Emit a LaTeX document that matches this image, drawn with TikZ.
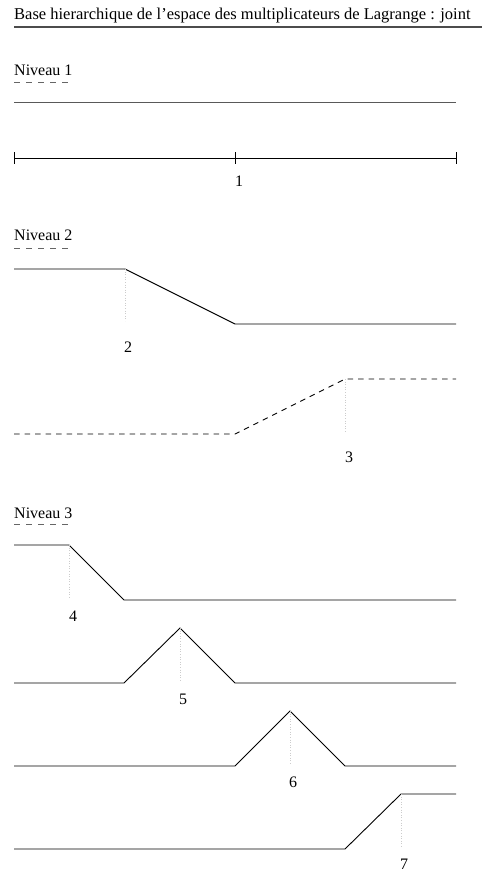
\documentclass[tikz,border=0pt]{standalone}
\usepackage{fontspec}
\setmainfont{Liberation Serif}
\begin{document}
\begin{tikzpicture}[x=1pt,y=-1pt,
  txt/.style={font=\fontsize{16}{19}\selectfont,inner sep=0pt},
  lvl/.style={txt,anchor=base west},
  num/.style={txt,anchor=base},
  curve/.style={line width=0.9pt,black},
  guide/.style={gray!40,dotted,line width=0.6pt},
  uline/.style={dash pattern=on 6pt off 6pt,line width=0.8pt,gray!80!black}]
\useasboundingbox (0,0) rectangle (482,874);
% title
\node[lvl,font=\fontsize{16.5}{19}\selectfont] (title) at (14,20) {Base hierarchique de l’espace des multiplicateurs de Lagrange : joint};
\coordinate (tl) at (14,27); \coordinate (tr) at (482,27);
\draw[line width=1.4pt,gray!60!black] (tl) -- (tr);
% Niveau 1
\node[lvl] (n1) at (14,76) {Niveau 1};
\coordinate (n1a) at (14,82); \coordinate (n1b) at (70,82);
\draw[uline] (n1a) -- (n1b);
\coordinate (l1a) at (14,102.5); \coordinate (l1b) at (456,102.5);
\draw[curve,gray!70!black] (l1a) -- (l1b);
\coordinate (ax0) at (14,158); \coordinate (ax1) at (235,158); \coordinate (ax2) at (456,158);
\draw[curve] (ax0) -- (ax2);
\foreach \c in {ax0,ax1,ax2} \draw[curve] ([yshift=-6pt]\c) -- ([yshift=6pt]\c);
\node[num] (k1) at (239,186.5) {1};
% Niveau 2
\node[lvl] (n2) at (14,241) {Niveau 2};
\coordinate (n2a) at (14,248); \coordinate (n2b) at (70,248);
\draw[uline] (n2a) -- (n2b);
\coordinate (a0) at (14,269); \coordinate (a1) at (125,269); \coordinate (a2) at (235,324); \coordinate (a3) at (456,324);
\draw[curve] (a0) -- (a1) -- (a2) -- (a3);
\coordinate (g2) at (125,321);
\draw[guide] (a1) -- (g2);
\node[num] (k2) at (128,352.5) {2};
\coordinate (b0) at (14,434); \coordinate (b1) at (235,434); \coordinate (b2) at (345,379); \coordinate (b3) at (456,379);
\draw[curve,dash pattern=on 5.5pt off 5pt] (b0) -- (b1) -- (b2) -- (b3);
\coordinate (g3) at (345,432);
\draw[guide] (b2) -- (g3);
\node[num] (k3) at (349,462.5) {3};
% Niveau 3
\node[lvl] (n3) at (14,518) {Niveau 3};
\coordinate (n3a) at (14,524); \coordinate (n3b) at (70,524);
\draw[uline] (n3a) -- (n3b);
\coordinate (c0) at (14,545); \coordinate (c1) at (69,545); \coordinate (c2) at (124,600); \coordinate (c3) at (456,600);
\draw[curve] (c0) -- (c1) -- (c2) -- (c3);
\coordinate (g4) at (69,598);
\draw[guide] (c1) -- (g4);
\node[num] (k4) at (73,621.5) {4};
\coordinate (d0) at (14,683); \coordinate (d1) at (124,683); \coordinate (d2) at (180,628); \coordinate (d3) at (235,683); \coordinate (d4) at (456,683);
\draw[curve] (d0) -- (d1) -- (d2) -- (d3) -- (d4);
\coordinate (g5) at (180,681);
\draw[guide] (d2) -- (g5);
\node[num] (k5) at (183,704.5) {5};
\coordinate (e0) at (14,766); \coordinate (e1) at (235,766); \coordinate (e2) at (290,711); \coordinate (e3) at (345,766); \coordinate (e4) at (456,766);
\draw[curve] (e0) -- (e1) -- (e2) -- (e3) -- (e4);
\coordinate (g6) at (290,764);
\draw[guide] (e2) -- (g6);
\node[num] (k6) at (293,787.5) {6};
\coordinate (f0) at (14,849); \coordinate (f1) at (345,849); \coordinate (f2) at (401,794); \coordinate (f3) at (456,794);
\draw[curve] (f0) -- (f1) -- (f2) -- (f3);
\coordinate (g7) at (401,847);
\draw[guide] (f2) -- (g7);
\node[num] (k7) at (404,869.5) {7};
\end{tikzpicture}
\end{document}
